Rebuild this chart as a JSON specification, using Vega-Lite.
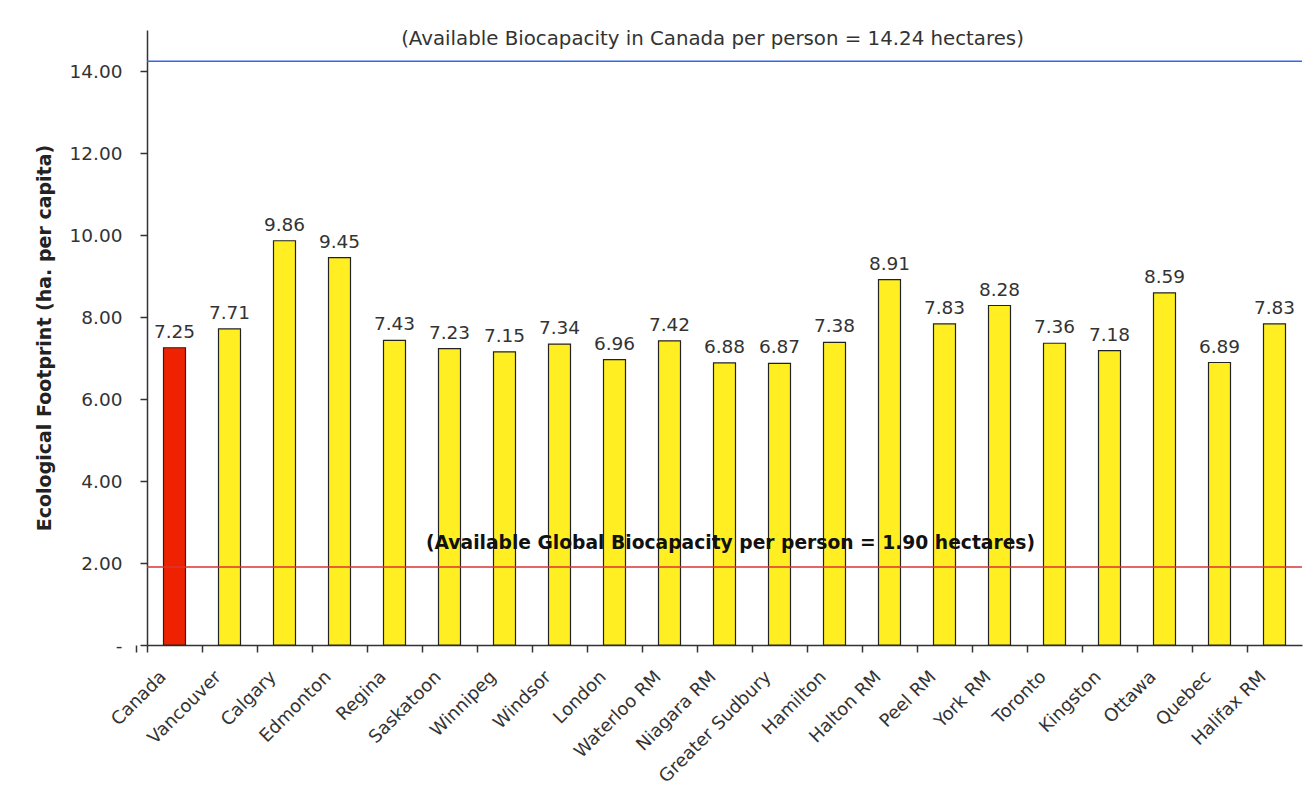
{
  "$schema": "https://vega.github.io/schema/vega-lite/v6.json",
  "autosize": "none",
  "width": 1155,
  "height": 615,
  "padding": {"left": 147, "top": 30, "right": 5, "bottom": 167},
  "background": "white",
  "config": {
    "font": "DejaVu Sans",
    "view": {"stroke": null},
    "axis": {"grid": false, "domainColor": "#333", "domainWidth": 1.5, "tickColor": "#333", "tickWidth": 1.5, "labelColor": "#333", "labelFont": "DejaVu Sans", "titleFont": "DejaVu Sans"}
  },
  "datasets": {
    "footprint": [
      {"city": "Canada", "ha": 7.25},
      {"city": "Vancouver", "ha": 7.71},
      {"city": "Calgary", "ha": 9.86},
      {"city": "Edmonton", "ha": 9.45},
      {"city": "Regina", "ha": 7.43},
      {"city": "Saskatoon", "ha": 7.23},
      {"city": "Winnipeg", "ha": 7.15},
      {"city": "Windsor", "ha": 7.34},
      {"city": "London", "ha": 6.96},
      {"city": "Waterloo RM", "ha": 7.42},
      {"city": "Niagara RM", "ha": 6.88},
      {"city": "Greater Sudbury", "ha": 6.87},
      {"city": "Hamilton", "ha": 7.38},
      {"city": "Halton RM", "ha": 8.91},
      {"city": "Peel RM", "ha": 7.83},
      {"city": "York RM", "ha": 8.28},
      {"city": "Toronto", "ha": 7.36},
      {"city": "Kingston", "ha": 7.18},
      {"city": "Ottawa", "ha": 8.59},
      {"city": "Quebec", "ha": 6.89},
      {"city": "Halifax RM", "ha": 7.83}
    ],
    "biocapacity": [
      {"scope": "Canada", "ha": 14.24, "label": "(Available Biocapacity in Canada per person = 14.24 hectares)"},
      {"scope": "Global", "ha": 1.9, "label": "(Available Global Biocapacity per person = 1.90 hectares)"}
    ]
  },
  "layer": [
    {
      "data": {"name": "footprint"},
      "mark": {"type": "bar", "stroke": "#222", "strokeWidth": 1.2},
      "encoding": {
        "x": {
          "field": "city", "type": "nominal", "sort": null,
          "scale": {"paddingInner": 0.6, "paddingOuter": 0.3},
          "axis": {"title": null, "labelAngle": -45, "labelAlign": "right", "labelBaseline": "middle", "labelFontSize": 18, "labelPadding": 22, "tickOffset": -27.5, "labelOffset": 16, "tickExtra": true, "tickSize": 7, "labelOverlap": false}
        },
        "y": {
          "field": "ha", "type": "quantitative",
          "scale": {"domain": [0, 15], "nice": false},
          "axis": {
            "title": "Ecological Footprint (ha. per capita)",
            "titleFontSize": 19, "titleFontWeight": "bold", "titleColor": "#222", "titlePadding": 15,
            "values": [0, 2, 4, 6, 8, 10, 12, 14],
            "labelExpr": "datum.value === 0 ? '-' : format(datum.value, '.2f')",
            "labelFontSize": 18.5, "labelPadding": 18, "tickSize": 7
          }
        },
        "color": {
          "condition": {"test": "datum.city === 'Canada'", "value": "#EE2200"},
          "value": "#FFEE22"
        }
      }
    },
    {
      "data": {"name": "footprint"},
      "mark": {"type": "text", "baseline": "bottom", "dy": -6, "fontSize": 18.5, "color": "#333"},
      "encoding": {
        "x": {"field": "city", "type": "nominal", "sort": null},
        "y": {"field": "ha", "type": "quantitative"},
        "text": {"field": "ha", "type": "quantitative", "format": ".2f"}
      }
    },
    {
      "data": {"name": "biocapacity"},
      "mark": {"type": "rule", "strokeWidth": 1.5},
      "encoding": {
        "y": {"field": "ha", "type": "quantitative"},
        "color": {
          "field": "scope", "type": "nominal",
          "scale": {"domain": ["Canada", "Global"], "range": ["#3366EE", "#DD3333"]},
          "legend": null
        }
      }
    },
    {
      "data": {"name": "biocapacity"},
      "transform": [{"filter": "datum.scope === 'Canada'"}],
      "mark": {"type": "text", "baseline": "middle", "dy": -22, "dx": -12, "fontSize": 19.8, "color": "#333"},
      "encoding": {
        "y": {"field": "ha", "type": "quantitative"},
        "text": {"field": "label"}
      }
    },
    {
      "data": {"name": "biocapacity"},
      "transform": [{"filter": "datum.scope === 'Global'"}],
      "mark": {"type": "text", "baseline": "middle", "dy": -24, "dx": 6, "fontSize": 18.7, "fontWeight": "bold", "color": "#111"},
      "encoding": {
        "y": {"field": "ha", "type": "quantitative"},
        "text": {"field": "label"}
      }
    }
  ]
}
